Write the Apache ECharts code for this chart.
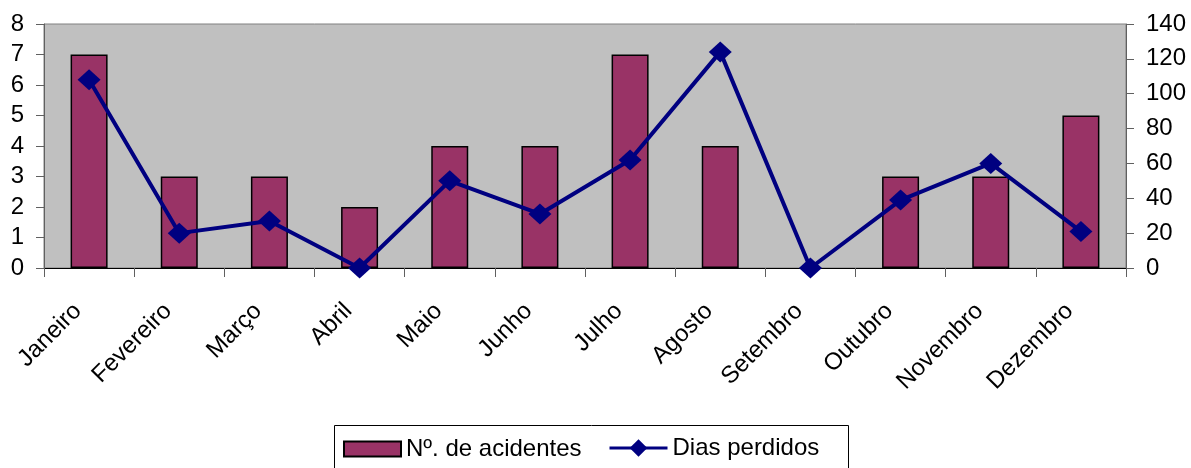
<!DOCTYPE html>
<html>
<head>
<meta charset="utf-8">
<script src="https://cdn.jsdelivr.net/npm/echarts@6/dist/echarts.min.js"></script>
<style>
  html, body { margin: 0; padding: 0; background: #fff; }
  #chart { width: 1191px; height: 468px; }
</style>
</head>
<body>
<div id="chart"></div>
<script>
// dados
var meses = ['Janeiro', 'Fevereiro', 'Março', 'Abril', 'Maio', 'Junho', 'Julho', 'Agosto', 'Setembro', 'Outubro', 'Novembro', 'Dezembro'];
var acidentes = [7, 3, 3, 2, 4, 4, 7, 4, 0, 3, 3, 5];
var diasPerdidos = [108, 20, 27, 0, 50, 31, 62, 124, 0, 39, 60, 21];

var fonte = 'Liberation Sans, Arial, sans-serif';

// barra com valor 0 nao desenha contorno
var barData = acidentes.map(function (v) {
  return v === 0 ? { value: v, itemStyle: { borderWidth: 0 } } : v;
});

var myChart = echarts.init(document.getElementById('chart'));
var option = {
  animation: false,
  textStyle: { fontFamily: fonte },
  grid: {
    left: 44, right: 65, top: 24, bottom: 200,
    show: true,
    backgroundColor: '#C0C0C0',
    borderColor: '#808080',
    borderWidth: 1
  },
  // moldura da legenda
  graphic: [{
    type: 'rect',
    left: 334, top: 425,
    shape: { width: 514, height: 50 },
    style: { fill: '#fff', stroke: '#000', lineWidth: 1 },
    z: -1
  }],
  legend: [
    {
      left: 343, top: 437, padding: 0,
      itemWidth: 57, itemHeight: 15,
      textStyle: { fontSize: 24, color: '#000', fontFamily: fonte },
      data: [{ name: 'Nº. de acidentes', icon: 'rect' }]
    },
    {
      left: 608, top: 436, padding: 0,
      itemWidth: 58, itemHeight: 22,
      textStyle: { fontSize: 24, color: '#000', fontFamily: fonte },
      data: [{ name: 'Dias perdidos', lineStyle: { width: 3 } }]
    }
  ],
  xAxis: {
    type: 'category',
    data: meses,
    boundaryGap: true,
    axisLine: { lineStyle: { color: '#000', width: 1 } },
    axisTick: { show: true, length: 9, lineStyle: { color: '#606060' } },
    axisLabel: {
      rotate: 45,
      fontSize: 24,
      color: '#000',
      margin: 28,
      padding: [0, 16, 0, 0],
      interval: 0
    }
  },
  yAxis: [
    {
      type: 'value',
      min: 0, max: 8, interval: 1,
      splitLine: { show: false },
      axisLine: { show: true, lineStyle: { color: '#606060' } },
      axisTick: { show: true, length: 8, lineStyle: { color: '#606060' } },
      axisLabel: { fontSize: 24, color: '#000', margin: 20 }
    },
    {
      type: 'value',
      min: 0, max: 140, interval: 20,
      splitLine: { show: false },
      axisLine: { show: true, lineStyle: { color: '#606060' } },
      axisTick: { show: true, length: 8, lineStyle: { color: '#606060' } },
      axisLabel: { fontSize: 24, color: '#000', margin: 20 }
    }
  ],
  series: [
    {
      name: 'Nº. de acidentes',
      type: 'bar',
      yAxisIndex: 0,
      barWidth: 37,
      data: barData,
      itemStyle: { color: '#993366', borderColor: '#000', borderWidth: 1.5 }
    },
    {
      name: 'Dias perdidos',
      type: 'line',
      yAxisIndex: 1,
      data: diasPerdidos,
      symbol: 'diamond',
      symbolSize: [23, 21],
      lineStyle: { color: '#000080', width: 4 },
      itemStyle: { color: '#000080' }
    }
  ]
};
myChart.setOption(option);
</script>
</body>
</html>
